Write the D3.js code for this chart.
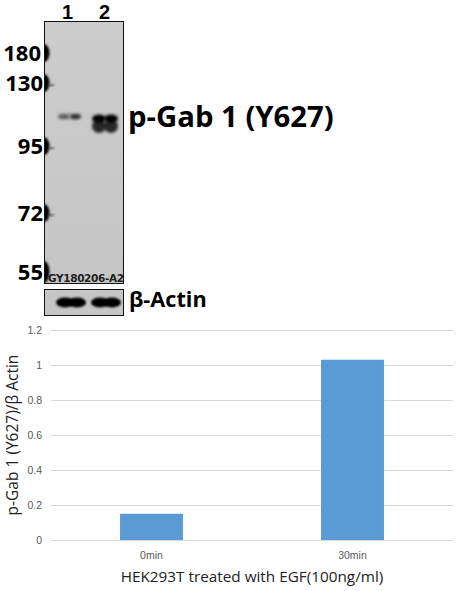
<!DOCTYPE html>
<html>
<head>
<meta charset="utf-8">
<script src="https://cdn.jsdelivr.net/npm/d3@7"></script>
<style>
body { margin: 0; background: #fff; }
svg { display: block; }
</style>
</head>
<body>
<div id="my_dataviz"></div>
<script>
// bar chart data
var categories = ["0min", "30min"];
var ratios = [0.15, 1.03];
var yTicks = [0, 0.2, 0.4, 0.6, 0.8, 1, 1.2];

// western blot data
var laneLabels = ["1", "2"];
var markerKda = [180, 130, 95, 72, 55];
var bandLanes = ["1", "1", "1", "2", "2", "2", "2"];
var bandKda = [110, 110, 110, 110, 110, 106, 106];
var bandOffsets = [-6, 1, 7, -6, 6, -6, 6];
var bandDarkness = [0.5, 0.3, 0.75, 1, 1, 0.8, 0.8];
var actinLanes = ["1", "1", "2", "2"];
var actinOffsets = [-6, 6, -6, 6];

var width = 457, height = 591;

var svg = d3.select("#my_dataviz")
    .append("svg")
    .attr("width", width)
    .attr("height", height);

var defs = svg.append("defs");
defs.append("filter").attr("id", "blur").attr("x", "-50%").attr("y", "-100%").attr("width", "200%").attr("height", "300%")
    .append("feGaussianBlur").attr("stdDeviation", 1.5);
defs.append("filter").attr("id", "blurSmall").attr("x", "-50%").attr("y", "-50%").attr("width", "200%").attr("height", "200%")
    .append("feGaussianBlur").attr("stdDeviation", 0.8);
defs.append("clipPath").attr("id", "gelClip").append("rect")
    .attr("x", 44).attr("y", 21).attr("width", 80).attr("height", 263);
defs.append("clipPath").attr("id", "actinClip").append("rect")
    .attr("x", 44).attr("y", 289).attr("width", 80).attr("height", 27);
var gelShade = defs.append("linearGradient").attr("id", "gelShade").attr("x1", 0).attr("y1", 0).attr("x2", 0).attr("y2", 1);
gelShade.append("stop").attr("offset", "0%").attr("stop-color", "#cccccc");
gelShade.append("stop").attr("offset", "100%").attr("stop-color", "#c5c5c5");

// the gel is not log-linear in the picture, so the scale is piecewise
var kdaY = d3.scaleLog().domain([180, 130, 95, 72, 55]).range([53, 83, 146, 213, 272]);
var laneX = d3.scalePoint().domain(laneLabels).range([69, 105]);

var gel = svg.append("g").attr("clip-path", "url(#gelClip)");

gel.append("rect")
    .attr("x", 44).attr("y", 21).attr("width", 80).attr("height", 263)
    .attr("fill", "url(#gelShade)");

// ladder smudges on the left edge
gel.selectAll(".ladder")
    .data(markerKda)
    .enter()
    .append("ellipse")
    .attr("class", "ladder")
    .attr("cx", 44)
    .attr("cy", function(d){ return kdaY(d); })
    .attr("rx", 5.5)
    .attr("ry", function(d){ return d == 55 ? 11 : 9; })
    .attr("fill", "#050505")
    .attr("filter", "url(#blurSmall)");
gel.selectAll(".ladderTail")
    .data(markerKda.slice(1, 4))
    .enter()
    .append("rect")
    .attr("class", "ladderTail")
    .attr("x", 48)
    .attr("y", function(d){ return kdaY(d) + 1.5; })
    .attr("width", 6)
    .attr("height", 1.5)
    .attr("fill", "#444")
    .attr("filter", "url(#blurSmall)");

// p-Gab 1 bands
gel.selectAll(".band")
    .data(bandLanes)
    .enter()
    .append("ellipse")
    .attr("class", "band")
    .attr("cx", function(d, i){ return laneX(d) + bandOffsets[i]; })
    .attr("cy", function(d, i){ return kdaY(bandKda[i]) + (d == "1" ? 0 : 2); })
    .attr("rx", function(d){ return d == "1" ? 5 : 7; })
    .attr("ry", function(d, i){ return d == "1" ? 2.8 : (bandKda[i] == 110 ? 4 : 7); })
    .attr("fill", "#000")
    .attr("opacity", function(d, i){ return bandDarkness[i]; })
    .attr("filter", "url(#blur)");

gel.append("text")
    .attr("x", 48)
    .attr("y", 282)
    .attr("font-family", "DejaVu Sans")
    .attr("font-size", 10.5)
    .attr("font-weight", "bold")
    .attr("textLength", 76)
    .attr("fill", "#222")
    .text("GY180206-A2");

svg.append("rect")
    .attr("x", 44.5).attr("y", 21.5).attr("width", 79).attr("height", 262)
    .attr("fill", "none").attr("stroke", "#111");

// actin panel
var actin = svg.append("g").attr("clip-path", "url(#actinClip)");
actin.append("rect")
    .attr("x", 44).attr("y", 289).attr("width", 80).attr("height", 27)
    .attr("fill", "#c6c6c6");
actin.selectAll(".actinBand")
    .data(actinLanes)
    .enter()
    .append("ellipse")
    .attr("class", "actinBand")
    .attr("cx", function(d, i){ return laneX(d) + actinOffsets[i] + (d == "1" ? 2 : 1); })
    .attr("cy", 302.5)
    .attr("rx", 9)
    .attr("ry", 5)
    .attr("fill", "#000")
    .attr("filter", "url(#blurSmall)");
svg.append("rect")
    .attr("x", 44.5).attr("y", 289.5).attr("width", 79).attr("height", 26)
    .attr("fill", "none").attr("stroke", "#111");

// blot labels
var blotFont = "'Open Sans', 'Noto Sans', sans-serif";

svg.selectAll(".lane")
    .data(laneLabels)
    .enter()
    .append("text")
    .attr("class", "lane")
    .attr("x", function(d){ return d == "1" ? 67.5 : 104.5; })
    .attr("y", 19)
    .attr("text-anchor", "middle")
    .attr("font-family", "'Liberation Sans', sans-serif")
    .attr("font-weight", "bold")
    .attr("font-size", 20)
    .attr("fill", "#000")
    .text(function(d){ return d; });

svg.selectAll(".marker")
    .data(markerKda)
    .enter()
    .append("text")
    .attr("class", "marker")
    .attr("x", function(d){ return d == 180 ? 41 : 43; })
    .attr("y", function(d){ return kdaY(d) + 8; })
    .attr("text-anchor", "end")
    .attr("font-family", blotFont)
    .attr("font-weight", "bold")
    .attr("font-size", 22)
    .attr("fill", "#000")
    .text(function(d){ return d; });

svg.append("text")
    .attr("x", 128)
    .attr("y", 127)
    .attr("font-family", blotFont)
    .attr("font-weight", "bold")
    .attr("font-size", 29.3)
    .attr("fill", "#000")
    .text("p-Gab 1 (Y627)");

svg.append("text")
    .attr("x", 129)
    .attr("y", 307)
    .attr("font-family", blotFont)
    .attr("font-weight", "bold")
    .attr("font-size", 21.7)
    .attr("fill", "#000")
    .text("β-Actin");

// bar chart
var x = d3.scaleBand()
    .domain(categories)
    .range([51, 453])
    .paddingInner(0)
    .paddingOuter(0);

var y = d3.scaleLinear()
    .domain([0, 1.2])
    .range([540, 330]);

var barWidth = x.bandwidth() * 0.313;

var yAxis = d3.axisLeft(y)
    .tickValues(yTicks)
    .tickSize(-(453 - 51))
    .tickPadding(9)
    .tickFormat(function(d){ return d; });

var gy = svg.append("g")
    .attr("transform", "translate(51,0)")
    .call(yAxis);
gy.select(".domain").remove();
gy.selectAll("line").attr("stroke", "#d9d9d9").attr("stroke-width", 1);
gy.selectAll("text")
    .attr("font-family", "'Liberation Sans', Arial, sans-serif")
    .attr("font-size", 10.5)
    .attr("fill", "#595959");

svg.selectAll(".bar")
    .data(ratios)
    .enter()
    .append("rect")
    .attr("class", "bar")
    .attr("x", function(d, i){ return x(categories[i]) + x.bandwidth() / 2 - barWidth / 2; })
    .attr("y", function(d){ return y(d); })
    .attr("width", barWidth)
    .attr("height", function(d){ return y(0) - y(d); })
    .attr("fill", "#5b9bd5");

svg.selectAll(".cat")
    .data(categories)
    .enter()
    .append("text")
    .attr("class", "cat")
    .attr("x", function(d){ return x(d) + x.bandwidth() / 2; })
    .attr("y", 559)
    .attr("text-anchor", "middle")
    .attr("font-family", "'Liberation Sans', Arial, sans-serif")
    .attr("font-size", 10.5)
    .attr("fill", "#595959")
    .text(function(d){ return d; });

svg.append("text")
    .attr("x", 252)
    .attr("y", 582)
    .attr("text-anchor", "middle")
    .attr("font-family", "'Open Sans', sans-serif")
    .attr("font-size", 15.3)
    .attr("fill", "#222")
    .text("HEK293T treated with EGF(100ng/ml)");

svg.append("text")
    .attr("transform", "translate(18,435) rotate(-90)")
    .attr("text-anchor", "middle")
    .attr("font-family", "'Open Sans', sans-serif")
    .attr("font-size", 15.5)
    .attr("fill", "#222")
    .text("p-Gab 1 (Y627)/β Actin");
</script>
</body>
</html>
